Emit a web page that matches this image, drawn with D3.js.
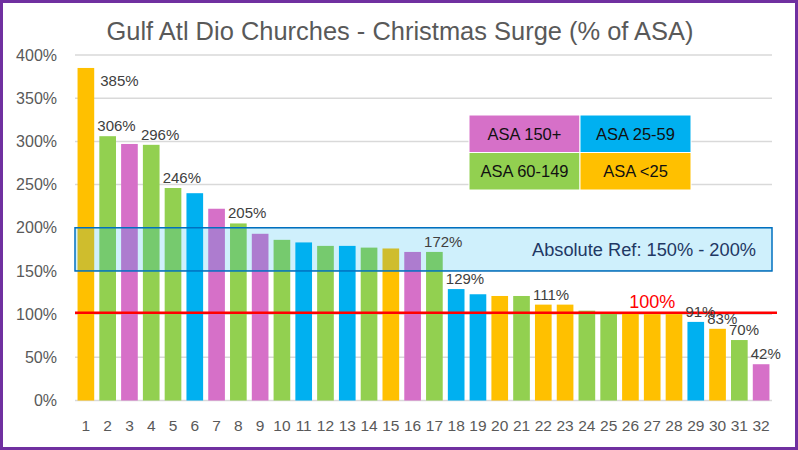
<!DOCTYPE html>
<html>
<head>
<meta charset="utf-8">
<script src="https://cdn.jsdelivr.net/npm/d3@7"></script>
<style>
  html, body { margin: 0; padding: 0; background: #fff; }
  svg { display: block; }
  text { font-family: "Liberation Sans", Arial, sans-serif; }
</style>
</head>
<body>
<svg id="chart" width="798" height="450"></svg>
<script>
// ---------------- DATA ----------------
const title = "Gulf Atl Dio Churches - Christmas Surge (% of ASA)";
const categories = ["1","2","3","4","5","6","7","8","9","10","11","12","13","14","15","16",
                    "17","18","19","20","21","22","23","24","25","26","27","28","29","30","31","32"];
const values = [385,306,297,296,246,240,222,205,193,186,183,179,179,177,176,172,
                172,129,123,121,121,111,111,104,101,101,100,100,91,83,70,42];
const groups = ["<25","60-149","150+","60-149","60-149","25-59","150+","60-149","150+","60-149","25-59","60-149","25-59","60-149","<25","150+",
                "60-149","25-59","25-59","<25","60-149","<25","<25","60-149","60-149","<25","<25","<25","25-59","<25","60-149","150+"];
const labelledCategories = ["1","2","4","5","8","17","18","22","29","30","31","32"];
const groupNames = ["150+","25-59","60-149","<25"];
const groupLabels = ["ASA 150+","ASA 25-59","ASA 60-149","ASA <25"];
const groupColors = ["#D670C8","#00B0F0","#92D050","#FFC000"];
const yTicks = [0,50,100,150,200,250,300,350,400];
const refBand = [150,200];
const refBandLabel = "Absolute Ref: 150% - 200%";
const refLine = 100;
const refLineLabel = "100%";
const refLineLabelCategory = "27";

// ---------------- LAYOUT ----------------
const svg = d3.select("#chart");
const W = 798, H = 450;
const plot = {left: 75, right: 772, top: 55, bottom: 400.5};

const x = d3.scaleBand().domain(categories).range([plot.left, plot.right]).paddingInner(0.235).paddingOuter(0.117);
const y = d3.scaleLinear().domain([0, 400]).range([plot.bottom, plot.top]);
const color = d3.scaleOrdinal().domain(groupNames).range(groupColors);

// background & border
svg.append("rect").attr("x", 1.5).attr("y", 1.5).attr("width", W - 3).attr("height", H - 3)
  .attr("fill", "#fff").attr("stroke", "#7030A0").attr("stroke-width", 3);

// title
svg.append("text").attr("x", 400).attr("y", 40).attr("text-anchor", "middle")
  .attr("font-size", 25).attr("fill", "#595959")
  .attr("textLength", 587).attr("lengthAdjust", "spacingAndGlyphs")
  .text(title);

// gridlines
svg.append("g").selectAll("line").data(yTicks).join("line")
  .attr("x1", plot.left).attr("x2", plot.right)
  .attr("y1", d => y(d)).attr("y2", d => y(d))
  .attr("stroke", "#D9D9D9").attr("stroke-width", 1.5);

// y axis labels
const yAxis = d3.axisLeft(y).tickValues(yTicks).tickFormat(d => d + "%").tickSize(0).tickPadding(0);
const gy = svg.append("g").attr("transform", `translate(${plot.left - 18},0)`).call(yAxis);
gy.select(".domain").remove();
gy.selectAll("text").attr("font-size", 16).attr("fill", "#595959")
  .attr("font-family", "'Liberation Sans', Arial, sans-serif");

// x axis labels
const xAxis = d3.axisBottom(x).tickSize(0).tickPadding(0);
const gx = svg.append("g").attr("transform", `translate(0,${plot.bottom + 19})`).call(xAxis);
gx.select(".domain").remove();
gx.selectAll("text").attr("font-size", 15.5).attr("fill", "#595959")
  .attr("font-family", "'Liberation Sans', Arial, sans-serif");

// bars
const data = categories.map((c, i) => ({cat: c, v: values[i], g: groups[i]}));
svg.append("g").selectAll("rect").data(data).join("rect")
  .attr("x", d => x(d.cat)).attr("width", x.bandwidth())
  .attr("y", d => y(d.v)).attr("height", d => y(0) - y(d.v))
  .attr("fill", d => color(d.g));

// reference band
svg.append("rect")
  .attr("x", plot.left).attr("width", plot.right - plot.left)
  .attr("y", y(refBand[1])).attr("height", y(refBand[0]) - y(refBand[1]))
  .attr("fill", "rgba(0,176,240,0.19)").attr("stroke", "#0070C0").attr("stroke-width", 1.5);
svg.append("text").attr("x", 644).attr("y", (y(refBand[0]) + y(refBand[1])) / 2 + 6.5)
  .attr("text-anchor", "middle").attr("font-size", 17.5).attr("fill", "#1F3864")
  .attr("font-family", "'Open Sans', 'Liberation Sans', sans-serif")
  .attr("textLength", 224).attr("lengthAdjust", "spacingAndGlyphs")
  .text(refBandLabel);

// reference line
svg.append("line").attr("x1", plot.left).attr("x2", plot.right + 5)
  .attr("y1", y(refLine) - 1.5).attr("y2", y(refLine) - 1.5)
  .attr("stroke", "#FF0000").attr("stroke-width", 2.5);
svg.append("text").attr("x", x(refLineLabelCategory) + x.bandwidth() / 2).attr("y", y(refLine) - 6)
  .attr("text-anchor", "middle").attr("font-size", 18).attr("fill", "#FF0000")
  .text(refLineLabel);

// data labels
const labelData = data.filter(d => labelledCategories.includes(d.cat));
svg.append("g").selectAll("text").data(labelData).join("text")
  .attr("x", (d, i) => i === 0 ? x(d.cat) + x.bandwidth() + 6 : x(d.cat) - 2)
  .attr("y", (d, i) => i === 0 ? y(d.v) + 18 : y(d.v) - 5)
  .attr("font-size", 15).attr("fill", "#404040")
  .text(d => d.v + "%");

// legend (2x2 colored cells)
const legend = {x: 469, y: 115, cw: 111, ch: 37.5};
const cells = groupLabels.map((t, i) => ({t, c: groupColors[i], col: i % 2, row: Math.floor(i / 2)}));
const lg = svg.append("g");
lg.selectAll("rect").data(cells).join("rect")
  .attr("x", d => legend.x + d.col * legend.cw).attr("y", d => legend.y + d.row * legend.ch)
  .attr("width", legend.cw).attr("height", legend.ch)
  .attr("fill", d => d.c).attr("stroke", "#fff").attr("stroke-width", 1);
lg.selectAll("text").data(cells).join("text")
  .attr("x", d => legend.x + d.col * legend.cw + legend.cw / 2)
  .attr("y", d => legend.y + d.row * legend.ch + legend.ch / 2 + 6)
  .attr("text-anchor", "middle").attr("font-size", 16.5).attr("fill", "#111")
  .text(d => d.t);
</script>
</body>
</html>
